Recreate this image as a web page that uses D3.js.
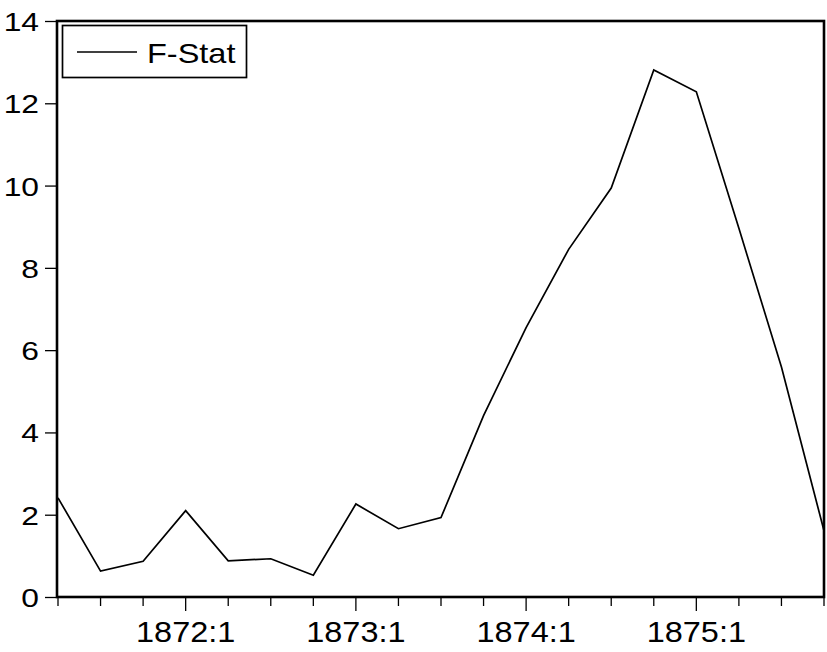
<!DOCTYPE html>
<html><head><meta charset="utf-8">
<script src="https://cdn.jsdelivr.net/npm/d3@7"></script>
<style>body{margin:0;background:#fff}svg{display:block}text{font-family:"Liberation Sans",Arial,sans-serif;fill:#000}</style>
</head><body>
<script>
const periods = ["1871:2","1871:3","1871:4","1872:1","1872:2","1872:3","1872:4","1873:1","1873:2","1873:3","1873:4","1874:1","1874:2","1874:3","1874:4","1875:1","1875:2","1875:3","1875:4"];
const fstat = [2.41,0.63,0.87,2.10,0.88,0.93,0.53,2.26,1.66,1.93,4.41,6.55,8.45,9.94,12.81,12.28,8.96,5.59,1.61];
const yTicks = [0,2,4,6,8,10,12,14];
const xLabels = ["1872:1","1873:1","1874:1","1875:1"];
const seriesName = "F-Stat";

const W=827,H=652;
const L=57,R=824,T=21,B=597;
const svg=d3.select("body").append("svg").attr("width",W).attr("height",H);
const x=d3.scaleLinear().domain([0,periods.length-1]).range([L+1,R]);
const y=d3.scaleLinear().domain([0,14]).range([B,T]);

// y axis
const ya=svg.append("g").attr("transform",`translate(${L},0)`)
 .call(d3.axisLeft(y).tickValues(yTicks).tickSize(12).tickPadding(6).tickFormat(d3.format("d")));
ya.select(".domain").remove();
ya.selectAll("line").attr("stroke","#000").attr("stroke-width",1.3);
ya.selectAll("text").attr("font-size",26.5).attr("dy","0.36em")
  .attr("transform",function(){const t=d3.select(this);const xx=+t.attr("x")||0;return `translate(${xx},0) scale(1.2,1) translate(${-xx},0)`;});

// x axis ticks
const xa=svg.append("g").attr("transform",`translate(0,${B})`);
xa.selectAll("line").data(periods).join("line")
  .attr("x1",(d,i)=>x(i)).attr("x2",(d,i)=>x(i))
  .attr("y1",0).attr("y2",d=>d.endsWith(":1")?14:9)
  .attr("stroke","#000").attr("stroke-width",1.3);
xa.selectAll("text").data(periods.filter(p=>xLabels.includes(p))).join("text")
  .attr("text-anchor","middle").attr("font-size",29)
  .attr("transform",d=>`translate(${x(periods.indexOf(d))},${45}) scale(1.12,1)`)
  .text(d=>d);

// frame
svg.append("rect").attr("x",L).attr("y",T).attr("width",R-L).attr("height",B-T)
  .attr("fill","none").attr("stroke","#000").attr("stroke-width",2.6);

// line
svg.append("path").datum(fstat)
  .attr("d",d3.line().x((d,i)=>x(i)).y(d=>y(d)))
  .attr("fill","none").attr("stroke","#000").attr("stroke-width",1.7);

// legend
const lg=svg.append("g");
lg.append("rect").attr("x",62.5).attr("y",25.5).attr("width",184).attr("height",52)
  .attr("fill","#fff").attr("stroke","#000").attr("stroke-width",1.7);
lg.append("line").attr("x1",77).attr("x2",137).attr("y1",52).attr("y2",52).attr("stroke","#000").attr("stroke-width",1.4);
lg.append("text").attr("font-size",28.5).attr("transform","translate(147,63) scale(1.14,1)").text(seriesName);
</script>
</body></html>
